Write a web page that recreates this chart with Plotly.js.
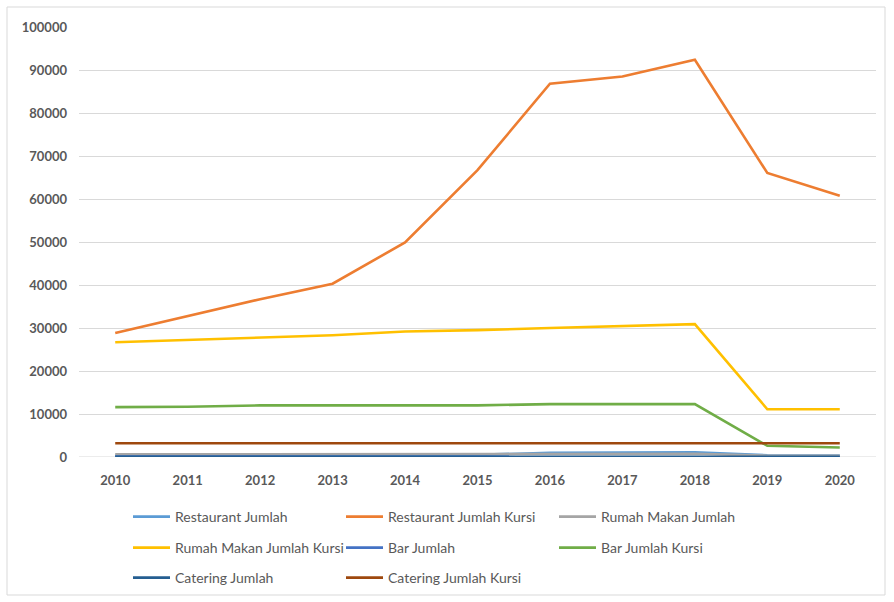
<!DOCTYPE html>
<html><head><meta charset="utf-8">
<script src="https://cdn.plot.ly/plotly-3.0.1.min.js"></script>
<style>body{margin:0;background:#fff}#c{width:894px;height:602px}</style>
</head><body><div id="c"></div>
<script>
const years = [2010,2011,2012,2013,2014,2015,2016,2017,2018,2019,2020];
const seriesNames = ["Restaurant Jumlah","Restaurant Jumlah Kursi","Rumah Makan Jumlah","Rumah Makan Jumlah Kursi","Bar Jumlah","Bar Jumlah Kursi","Catering Jumlah","Catering Jumlah Kursi"];
const restaurantJumlah      = [300,320,350,380,420,500,1000,1050,1100,400,350];
const restaurantJumlahKursi = [28850,32800,36700,40300,49900,66700,86800,88500,92400,66050,60750];
const rumahMakanJumlah      = [600,620,640,660,680,700,720,740,760,300,300];
const rumahMakanJumlahKursi = [26700,27200,27700,28300,29200,29500,30000,30400,30900,11100,11100];
const barJumlah             = [100,100,100,100,100,100,100,100,100,50,50];
const barJumlahKursi        = [11600,11700,12000,12000,12000,12000,12300,12300,12300,2600,2200];
const cateringJumlah        = [60,60,60,60,60,60,60,60,60,60,60];
const cateringJumlahKursi   = [3200,3200,3200,3200,3200,3200,3200,3200,3200,3200,3200];
const yTicks = [0,10000,20000,30000,40000,50000,60000,70000,80000,90000,100000];

const vals = [restaurantJumlah,restaurantJumlahKursi,rumahMakanJumlah,rumahMakanJumlahKursi,barJumlah,barJumlahKursi,cateringJumlah,cateringJumlahKursi];
const colors = ["#5B9BD5","#ED7D31","#A5A5A5","#FFC000","#4472C4","#70AD47","#255E91","#9E480E"];
const legendIds = vals.map((v,i)=> i===0 ? 'legend' : 'legend'+(i+1));
const traces = vals.map((v,i)=>({
  x: years, y: v, name: seriesNames[i], type:'scatter', mode:'lines',
  line:{color:colors[i], width:2.6}, legend: legendIds[i]
}));

const fam = "Lato, 'Open Sans', Arial, sans-serif";
const pxX = 797, pxY = 430, L = 79, B = 457;
const layout = {
  width:894, height:602,
  margin:{l:L, r:18, t:27, b:145, autoexpand:false},
  paper_bgcolor:'#fff', plot_bgcolor:'#fff',
  font:{family:fam, size:13, color:'#595959'},
  showlegend:true,
  xaxis:{range:[2009.5,2020.5], tickvals:years, ticktext:years.map(String), showgrid:false, zeroline:false, automargin:false,
    showline:false, ticks:'', ticklabelstandoff:14, tickfont:{family:fam,size:13,color:'#595959',weight:'bold'}},
  yaxis:{range:[0,100000], tickvals:yTicks, ticktext:yTicks.map(String), showgrid:true, gridcolor:'#D9D9D9', gridwidth:1, automargin:false,
    zeroline:false, showline:false, ticks:'', ticklabelstandoff:11, tickfont:{family:fam,size:13,color:'#595959',weight:'bold'}},
  shapes:[
    {type:'line', xref:'paper', yref:'y', x0:0, x1:1, y0:0, y1:0, line:{color:'#D9D9D9', width:1}, layer:'below'},
    {type:'rect', xref:'paper', yref:'paper', x0:(7-L)/pxX, x1:(885-L)/pxX, y0:(B-595)/pxY, y1:(B-7)/pxY,
     line:{color:'#D9D9D9', width:1}, fillcolor:'rgba(0,0,0,0)', layer:'below'}
  ]
};
// legend grid: 3 columns, 3 rows (px positions of sample-line start and row centre)
const colPx = [133, 346, 559], rowPx = [517, 548, 578];
legendIds.forEach((id,i)=>{
  const c = i % 3, r = Math.floor(i / 3);
  layout[id] = {orientation:'v', xanchor:'left', yanchor:'middle',
    x:(colPx[c]-5-L)/pxX, y:(B-rowPx[r])/pxY, itemwidth:37,
    font:{family:fam,size:14,color:'#595959'}, bgcolor:'rgba(0,0,0,0)', borderwidth:0};
});
Plotly.newPlot('c', traces, layout, {displayModeBar:false, staticPlot:true});
</script></body></html>
